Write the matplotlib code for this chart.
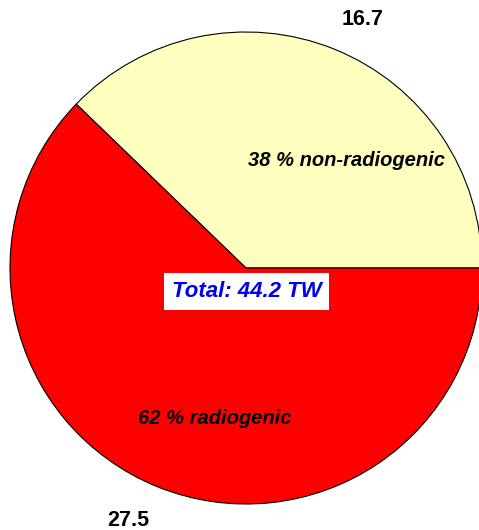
import matplotlib
matplotlib.use("Agg")
import matplotlib.pyplot as plt

# heat flow budget, TW
labels = ["non-radiogenic", "radiogenic"]
values = [16.7, 27.5]
colors = ["#FFFFC0", "#FF0000"]
total = sum(values)

plt.rcParams['font.family'] = ['Liberation Sans', 'DejaVu Sans']

fig = plt.figure(figsize=(4.79, 5.30), dpi=100)
ax = fig.add_axes([10 / 479, 26 / 530, 472 / 479, 472 / 530])

wedges, _ = ax.pie(values, colors=colors, startangle=0, counterclock=True,
                   radius=1.0,
                   wedgeprops=dict(edgecolor="black", linewidth=0.8))
for w in wedges:
    w.set_clip_on(False)

ax.set_xlim(-1, 1)
ax.set_ylim(-1, 1)
ax.set_aspect("equal")
ax.axis("off")

# value labels outside the pie
ax.text(0.496, 1.051, f"{values[0]:.1f}", ha="center", va="center",
        fontsize=15.5, fontweight="bold", clip_on=False)
ax.text(-0.5, -1.068, f"{values[1]:.1f}", ha="center", va="center",
        fontsize=15.5, fontweight="bold", clip_on=False)

# percentage labels inside
pct = [round(v / total * 100) for v in values]
ax.text(0.424, 0.455, f"{pct[0]} % {labels[0]}", ha="center", va="center",
        fontsize=14.5, fontweight="bold", style="italic")
ax.text(-0.131, -0.636, f"{pct[1]} % {labels[1]}", ha="center", va="center",
        fontsize=14.5, fontweight="bold", style="italic")

ax.text(0.002, -0.1, f"Total: {total:.1f} TW", ha="center", va="center",
        fontsize=16, fontweight="bold", style="italic", color="#0000EE",
        bbox=dict(boxstyle="square,pad=0.35", facecolor="white", edgecolor="none"))

fig.savefig("out.png", dpi=100)
